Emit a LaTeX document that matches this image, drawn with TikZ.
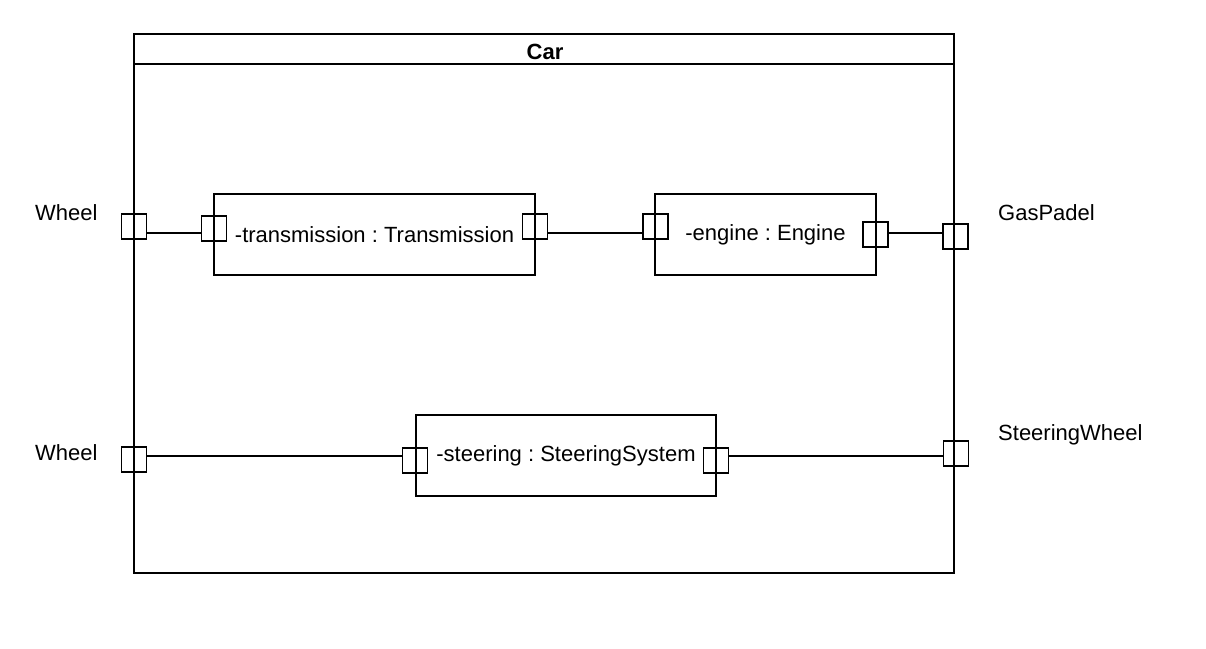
\documentclass[tikz,border=0pt]{standalone}
\usepackage{fontspec}
\setmainfont{Liberation Sans}
\frenchspacing
\begin{document}
\frenchspacing
\begin{tikzpicture}[x=1pt,y=-1pt,
  every node/.style={font=\fontsize{22}{26}\selectfont\frenchspacing},
  frame/.style={draw, line width=1.6pt, inner sep=0pt, outer sep=0pt, anchor=north west},
  part/.style={draw, line width=1.5pt, inner sep=0pt, outer sep=0pt, minimum height=81pt},
  port/.style={draw, line width=1.4pt, inner sep=0pt, outer sep=0pt, minimum size=25pt},
  conn/.style={line width=1.2pt},
  lbl/.style={anchor=base west, inner sep=0pt}]
\useasboundingbox (0,0) rectangle (1206,648);
% frame
\node[frame, minimum width=820pt, minimum height=539pt] (car) at (134,34) {};
\draw[line width=1.6pt] ([yshift=-30pt]car.north west) -- ([yshift=-30pt]car.north east);
\node[anchor=base, inner sep=0pt, font=\fontsize{22}{26}\selectfont\bfseries] (cartitle) at (545,59) {Car};
% parts
\node[part, minimum width=321pt] (trans) at (374.5,234.5) {-transmission : Transmission};
\node[part, minimum width=221pt] (engine) at (765.5,234.5) {\raisebox{-1pt}{-engine : Engine}};
\node[part, minimum width=300pt] (steer) at (566,455.5) {\raisebox{-1pt}{-steering : SteeringSystem}};
% ports
\node[port] (w1) at (134,226.5) {};
\node[port] (tl) at (214,228.5) {};
\node[port] (tr) at (535,226.5) {};
\node[port] (el) at (655.5,226.5) {};
\node[port] (er) at (875.5,234.5) {};
\node[port] (gp) at (955.5,236.5) {};
\node[port] (w2) at (134,459.5) {};
\node[port] (sl) at (415,460.5) {};
\node[port] (sr) at (716,460.5) {};
\node[port] (sw) at (956,453.5) {};
% connectors
\draw[conn] ([yshift=-6.5pt]w1.east) -- ([yshift=-4.5pt]tl.west);
\draw[conn] ([yshift=-6.5pt]tr.east) -- ([yshift=-6.5pt]el.west);
\draw[conn] ([yshift=1.5pt]er.east) -- ([yshift=3.5pt]gp.west);
\draw[conn] ([yshift=3.5pt]w2.east) -- ([yshift=4.5pt]sl.west);
\draw[conn] ([yshift=4.5pt]sr.east) -- ([yshift=-2.5pt]sw.west);
% labels
\node[lbl] (lw1) at (35,220) {Wheel};
\node[lbl] (lw2) at (35,460) {Wheel};
\node[lbl] (lgp) at (998,220) {GasPadel};
\node[lbl] (lsw) at (998,440) {SteeringWheel};
\end{tikzpicture}
\end{document}
